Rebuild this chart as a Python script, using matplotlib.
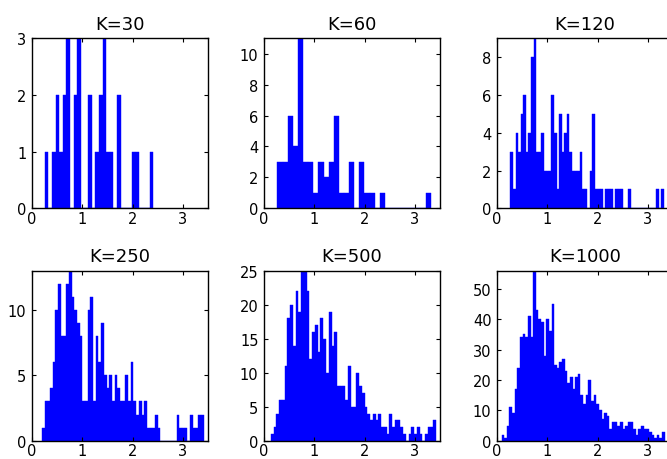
import matplotlib
matplotlib.use('Agg')
import matplotlib.pyplot as plt
import numpy as np

# histogram counts
titles = ['K=30', 'K=60', 'K=120', 'K=250', 'K=500', 'K=1000']

counts_30 = [1, 0, 1, 2, 1, 2, 3, 0, 2, 3, 0, 0, 2, 0, 1, 2, 3, 1, 1, 0,
             2, 0, 0, 0, 1, 1, 0, 0, 0, 1]
counts_60 = [3, 3, 6, 4, 11, 3, 3, 1, 3, 2, 3, 6, 1, 1, 3, 0, 3, 1, 1, 0,
             1, 0, 0, 0, 0, 0, 0, 0, 0, 1]
counts_120 = [3, 1, 4, 3, 5, 6, 3, 4, 8, 9, 3, 3, 4, 2, 2, 2, 6, 4, 1, 5,
              3, 4, 5, 3, 2, 2, 2, 3, 1, 1, 0, 2, 5, 1, 1, 1, 0, 1, 1, 1,
              0, 1, 1, 1, 0, 0, 1, 0, 0, 0, 0, 0, 0, 0, 0, 0, 0, 1, 0, 1]
counts_250 = [1, 3, 3, 4, 6, 10, 12, 8, 8, 12, 13, 11, 10, 9, 8, 3, 3, 10, 11, 3,
              8, 6, 9, 5, 4, 5, 3, 5, 4, 3, 3, 5, 3, 6, 3, 2, 3, 2, 3, 1,
              1, 1, 2, 1, 0, 0, 0, 0, 0, 0, 2, 1, 1, 1, 0, 2, 1, 1, 2, 2]
counts_500 = [1, 2, 4, 6, 6, 11, 18, 20, 14, 22, 19, 25, 25, 22, 12, 16, 17, 13, 18, 15,
              10, 19, 14, 16, 8, 8, 8, 6, 11, 5, 5, 10, 8, 7, 5, 4, 3, 4, 3, 4,
              2, 2, 1, 4, 2, 3, 3, 2, 1, 0, 1, 2, 1, 2, 1, 0, 1, 2, 2, 3]
counts_1000 = [2, 1, 5, 11, 9, 17, 24, 34, 35, 34, 41, 34, 56, 43, 40, 39, 28, 40, 36, 45,
               25, 24, 26, 27, 23, 19, 21, 17, 21, 22, 15, 12, 15, 20, 13, 15, 12, 10, 7, 9,
               8, 4, 6, 6, 5, 6, 4, 5, 6, 6, 4, 2, 4, 5, 4, 4, 3, 2, 1, 2,
               1, 3]
all_counts = [counts_30, counts_60, counts_120, counts_250, counts_500, counts_1000]

# first bin edge and bin width of each panel
bin_start = [0.252, 0.268, 0.268, 0.196, 0.137, 0.0915]
bin_width = [0.072, 0.1017, 0.0509, 0.0536, 0.0548, 0.0523]

ymax = [3, 11, 9, 13, 25, 56]
yticks = [[0, 1, 2, 3], [0, 2, 4, 6, 8, 10], [0, 2, 4, 6, 8],
          [0, 5, 10], [0, 5, 10, 15, 20, 25], [0, 10, 20, 30, 40, 50]]
xticks = [0, 1, 2, 3]

plt.rcParams['font.family'] = ['DejaVu Sans']

W, H = 667, 460
fig = plt.figure(figsize=(W / 100, H / 100), dpi=100)

lefts = [32, 264, 497]
tops = [39.3, 271.7]
aw, ah = 176, 170

for i in range(6):
    r, c = divmod(i, 3)
    ax = fig.add_axes([lefts[c] / W, 1 - (tops[r] + ah) / H, aw / W, ah / H])
    cnt = np.array(all_counts[i])
    edges = bin_start[i] + bin_width[i] * np.arange(len(cnt))
    ax.bar(edges, cnt, width=bin_width[i], align='edge', color='#0000ff',
           edgecolor='#0000ff', linewidth=0.3)
    ax.set_xlim(0, 3.5)
    ax.set_ylim(0, ymax[i])
    ax.set_xticks(xticks)
    ax.set_yticks(yticks[i])
    ax.tick_params(direction='in', top=True, right=True, length=3,
                   labelsize=10.5, pad=4, width=0.8)
    ax.tick_params(axis='x', pad=2)
    for s in ax.spines.values():
        s.set_linewidth(1.0)
    ax.set_title(titles[i], fontsize=13, pad=7)

fig.savefig('out.png', dpi=100)
